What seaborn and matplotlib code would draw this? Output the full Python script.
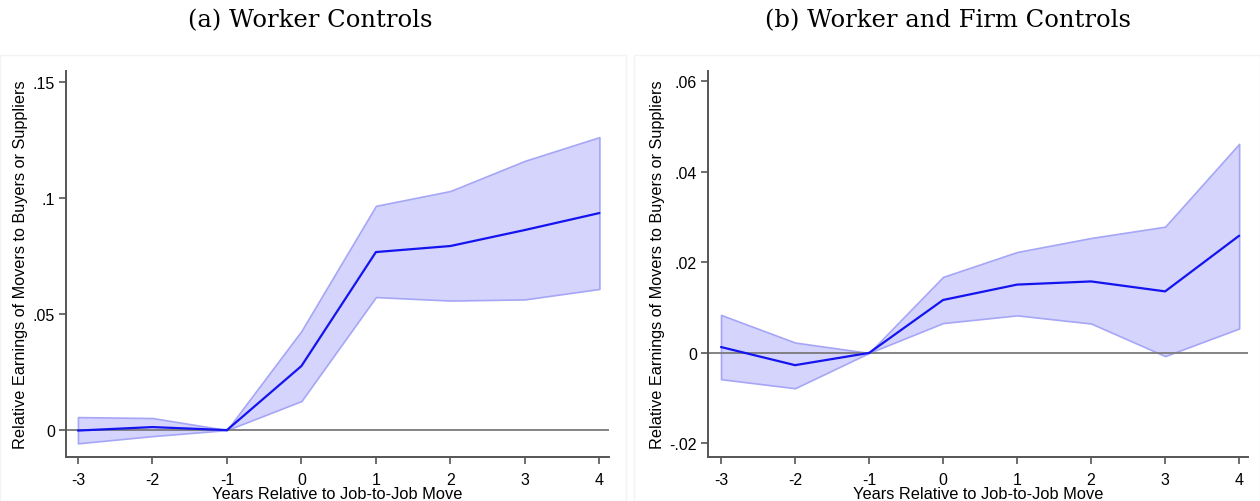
import matplotlib
matplotlib.use("Agg")
import matplotlib.pyplot as plt
import seaborn as sns
import pandas as pd

years = [-3, -2, -1, 0, 1, 2, 3, 4]

# (a) worker controls
coef_a = [-0.0002, 0.0013, 0.0, 0.0276, 0.0767, 0.0793, 0.0862, 0.0935]
upper_a = [0.0056, 0.0052, 0.0, 0.0427, 0.0966, 0.1030, 0.1160, 0.1262]
lower_a = [-0.0057, -0.0026, 0.0, 0.0125, 0.0573, 0.0558, 0.0563, 0.0608]

# (b) worker and firm controls
coef_b = [0.0013, -0.0027, 0.0, 0.0117, 0.0151, 0.0158, 0.0136, 0.0259]
upper_b = [0.0084, 0.0023, 0.0, 0.0168, 0.0223, 0.0254, 0.0279, 0.0462]
lower_b = [-0.0058, -0.0078, 0.0, 0.0066, 0.0083, 0.0065, -0.0007, 0.0054]

titles = ["(a) Worker Controls", "(b) Worker and Firm Controls"]
yticks_a = [0, 0.05, 0.1, 0.15]
yticklabels_a = ["0", ".05", ".1", ".15"]
yticks_b = [-0.02, 0, 0.02, 0.04, 0.06]
yticklabels_b = ["-.02", "0", ".02", ".04", ".06"]

sns.set_style("white")
plt.rcParams['font.family'] = ['Liberation Sans', 'DejaVu Sans']
plt.rcParams['text.color'] = 'black'
plt.rcParams['axes.labelcolor'] = 'black'
plt.rcParams['xtick.color'] = 'black'
plt.rcParams['ytick.color'] = 'black'

fig = plt.figure(figsize=(12.6, 5.02), dpi=100)

panels = [
    dict(rect=[0.0524, 0.0876, 0.4310, 0.769], coef=coef_a, up=upper_a, lo=lower_a,
         ylim=(-0.0116, 0.1547), yt=yticks_a, ytl=yticklabels_a, xlim=(-3.16, 4.13),
         title=titles[0], tx=0.246),
    dict(rect=[0.5619, 0.0876, 0.4286, 0.769], coef=coef_b, up=upper_b, lo=lower_b,
         ylim=(-0.0230, 0.0623), yt=yticks_b, ytl=yticklabels_b, xlim=(-3.176, 4.12),
         title=titles[1], tx=0.752),
]

# faint panel frames
for x0, w in [(0.0, 0.497), (0.503, 0.497)]:
    fig.patches.append(plt.Rectangle((x0, 0.0), w, 0.888, transform=fig.transFigure,
                                     fill=False, edgecolor="#f3f3f3", lw=1))

for p in panels:
    ax = fig.add_axes(p["rect"])
    df = pd.DataFrame({"year": years, "coef": p["coef"], "up": p["up"], "lo": p["lo"]})
    ax.fill_between(df["year"], df["lo"], df["up"], color="#d4d4fc", edgecolor="#a6a6f7", lw=1.2, zorder=1)
    ax.axhline(0, color="#7a7a7a", lw=1.3, zorder=2)
    sns.lineplot(data=df, x="year", y="coef", ax=ax, color="#1414f0", lw=1.6, zorder=3)
    ax.set_xlim(*p["xlim"])
    ax.set_ylim(*p["ylim"])
    ax.set_xticks(years)
    ax.set_xticklabels([str(y) for y in years])
    ax.set_yticks(p["yt"])
    ax.set_yticklabels(p["ytl"])
    ax.tick_params(axis="both", direction="out", length=5, width=1.2, color="#555555",
                   labelsize=11.5, labelcolor="black", pad=3, left=True, bottom=True)
    ax.tick_params(axis="x", pad=6)
    for s in ["top", "right"]:
        ax.spines[s].set_visible(False)
    for s in ["left", "bottom"]:
        ax.spines[s].set_color("#555555")
        ax.spines[s].set_linewidth(1.4)
    ax.set_xlabel("Years Relative to Job-to-Job Move", fontsize=11.8, labelpad=-1)
    ax.set_ylabel("Relative Earnings of Movers to Buyers or Suppliers", fontsize=11.7, labelpad=3)
    fig.text(p["tx"], 0.958, p["title"], ha="center", va="center", fontsize=17.5,
             color="black", family=["DejaVu Serif"])

fig.savefig("out.png", dpi=100)
